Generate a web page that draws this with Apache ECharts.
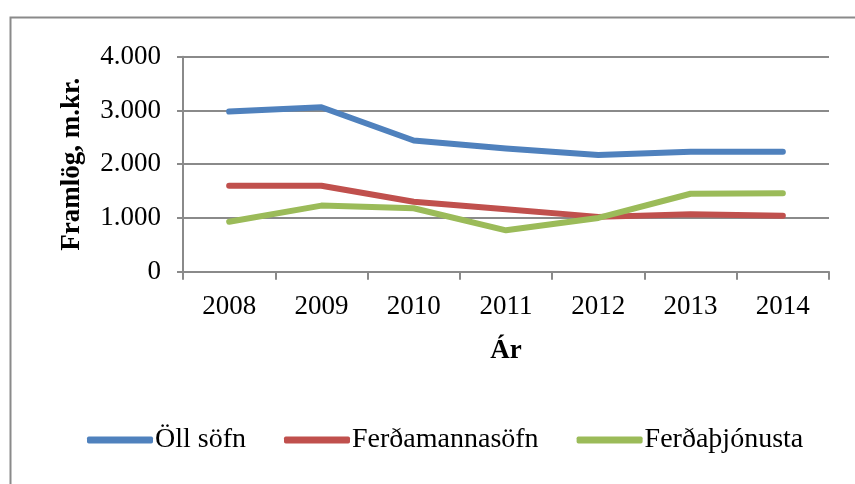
<!DOCTYPE html>
<html>
<head>
<meta charset="utf-8">
<script src="https://cdn.jsdelivr.net/npm/echarts@6/dist/echarts.min.js"></script>
<style>
html,body{margin:0;padding:0;background:#fff;}
#chart{width:855px;height:484px;}
</style>
</head>
<body>
<div id="chart"></div>
<script>
const years = ['2008','2009','2010','2011','2012','2013','2014'];
const seriesNames = ['Öll söfn','Ferðamannasöfn','Ferðaþjónusta'];
const ollSofn = [2980, 3060, 2440, 2290, 2170, 2230, 2230];
const ferdamannasofn = [1600, 1600, 1300, 1160, 1020, 1070, 1040];
const ferdathjonusta = [930, 1230, 1180, 770, 1000, 1450, 1460];
const yTickLabels = {0:'0',1000:'1.000',2000:'2.000',3000:'3.000',4000:'4.000'};
const colors = ['#4F81BD','#C0504D','#9BBB59'];
const FONT = "'Liberation Serif','Times New Roman',serif";

const chart = echarts.init(document.getElementById('chart'));
const values = [ollSofn, ferdamannasofn, ferdathjonusta];
chart.setOption({
  animation:false,
  backgroundColor:'#fff',
  graphic:[{
    type:'rect', left:8, top:15, silent:true,
    shape:{width:900,height:520},
    style:{fill:'none',stroke:'#8a8a8a',lineWidth:2}
  }],
  grid:{left:183,right:26,top:56.7,bottom:212.3,containLabel:false},
  legend:{
    left:82, top:421,
    itemWidth:66, itemHeight:7, itemGap:38,
    icon:'roundRect',
    textStyle:{fontFamily:FONT,fontSize:28,color:'#000',padding:[0,0,0,-3]},
    data:seriesNames
  },
  xAxis:{
    type:'category', data:years, boundaryGap:true,
    axisLine:{lineStyle:{color:'#8a8a8a',width:2}},
    axisTick:{show:true,length:8,inside:false,lineStyle:{color:'#8a8a8a',width:2}},
    axisLabel:{fontFamily:FONT,fontSize:27,color:'#000',margin:22},
    name:'Ár', nameLocation:'middle', nameGap:66,
    nameTextStyle:{fontFamily:FONT,fontSize:27,fontWeight:'bold',color:'#000'},
    splitLine:{show:false}
  },
  yAxis:{
    type:'value', min:0, max:4000, interval:1000,
    axisLine:{show:true,lineStyle:{color:'#8a8a8a',width:2}},
    axisTick:{show:true,length:6,inside:false,lineStyle:{color:'#8a8a8a',width:2}},
    axisLabel:{fontFamily:FONT,fontSize:27,color:'#000',margin:22,
      formatter:function(v){return yTickLabels[v]!==undefined?yTickLabels[v]:String(v);}},
    splitLine:{show:true,lineStyle:{color:'#8a8a8a',width:2}},
    name:'Framlög, m.kr.', nameLocation:'middle', nameGap:97, nameRotate:90,
    nameTextStyle:{fontFamily:FONT,fontSize:27,fontWeight:'bold',color:'#000'}
  },
  series: seriesNames.map((n,i)=>({
    name:n, type:'line', data:values[i], symbol:'none', smooth:false,
    color:colors[i],
    lineStyle:{width:6,color:colors[i],cap:'round',join:'round'},
    itemStyle:{color:colors[i]}
  }))
});
</script>
</body>
</html>
